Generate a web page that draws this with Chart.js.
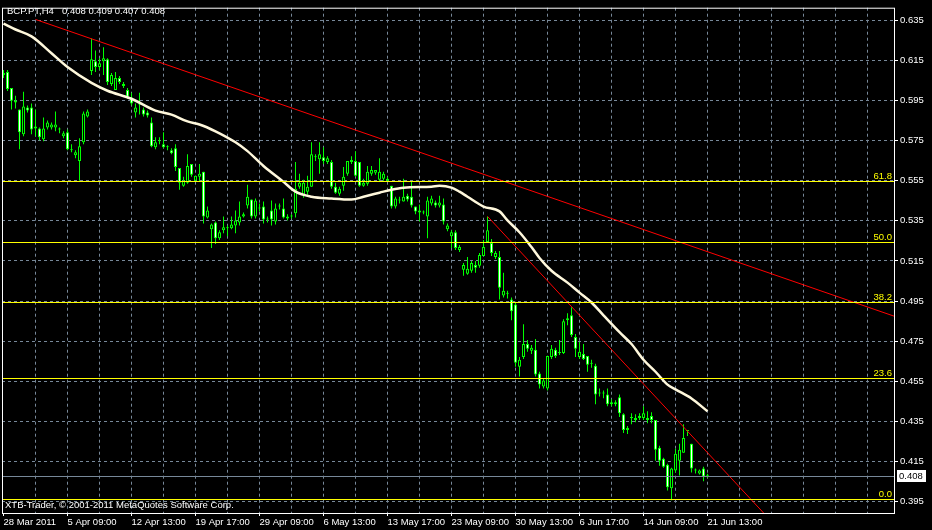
<!DOCTYPE html>
<html><head><meta charset="utf-8">
<script src="https://cdn.jsdelivr.net/npm/chart.js@4/dist/chart.umd.min.js"></script>
<style>html,body{margin:0;padding:0;background:#000;overflow:hidden}canvas{display:block}</style>
</head><body>
<canvas id="c" width="932" height="530"></canvas>
<script>
const symbolTitle = 'BCP.PT,H4';
const footerText = 'XTB-Trader, \u00a9 2001-2011 MetaQuotes Software Corp.';
const xTickLabels = ['28 Mar 2011','5 Apr 09:00','12 Apr 13:00','19 Apr 17:00','29 Apr 09:00','6 May 13:00','13 May 17:00','23 May 09:00','30 May 13:00','6 Jun 17:00','14 Jun 09:00','21 Jun 13:00'];
const yTickValues = [0.635,0.615,0.595,0.575,0.555,0.535,0.515,0.495,0.475,0.455,0.435,0.415,0.395];

const opens = [0.6076,0.6091,0.6012,0.5939,0.5904,0.5781,0.5914,0.5914,0.5820,0.5810,0.5756,0.5815,0.5815,0.5815,0.5805,0.5771,0.5791,0.5702,0.5677,0.5648,0.5741,0.5869,0.6096,0.6145,0.6116,0.6145,0.6155,0.6032,0.6002,0.6061,0.6032,0.6002,0.5963,0.5889,0.5929,0.5904,0.5889,0.5840,0.5716,0.5746,0.5731,0.5716,0.5702,0.5711,0.5613,0.5524,0.5539,0.5633,0.5549,0.5569,0.5594,0.5367,0.5308,0.5342,0.5263,0.5303,0.5313,0.5313,0.5327,0.5342,0.5372,0.5426,0.5456,0.5372,0.5411,0.5421,0.5357,0.5401,0.5347,0.5421,0.5411,0.5362,0.5372,0.5387,0.5519,0.5480,0.5495,0.5519,0.5667,0.5657,0.5667,0.5643,0.5643,0.5519,0.5485,0.5524,0.5584,0.5643,0.5648,0.5643,0.5524,0.5534,0.5584,0.5589,0.5554,0.5559,0.5559,0.5524,0.5421,0.5451,0.5446,0.5475,0.5470,0.5421,0.5391,0.5391,0.5372,0.5436,0.5441,0.5426,0.5431,0.5308,0.5273,0.5293,0.5204,0.5106,0.5086,0.5101,0.5130,0.5126,0.5175,0.5244,0.5239,0.5170,0.5170,0.4978,0.4987,0.4958,0.4933,0.4623,0.4672,0.4736,0.4702,0.4707,0.4589,0.4525,0.4515,0.4672,0.4707,0.4692,0.4692,0.4855,0.4879,0.4771,0.4672,0.4687,0.4677,0.4638,0.4628,0.4490,0.4490,0.4485,0.4436,0.4436,0.4471,0.4386,0.4308,0.4367,0.4357,0.4367,0.4367,0.4357,0.4377,0.4357,0.4219,0.4165,0.4135,0.4017,0.4106,0.4155,0.4194,0.4303,0.4239,0.4106,0.4091,0.4116,0.408];
const highs = [0.6101,0.6101,0.6012,0.5973,0.5904,0.5993,0.5924,0.5934,0.5904,0.5815,0.5864,0.5850,0.5840,0.5894,0.5815,0.5796,0.5805,0.5731,0.5702,0.5761,0.5894,0.5904,0.6258,0.6199,0.6160,0.6214,0.6160,0.6086,0.6091,0.6071,0.6042,0.6012,0.5988,0.5934,0.5988,0.5914,0.5899,0.5864,0.5766,0.5766,0.5791,0.5726,0.5711,0.5731,0.5613,0.5569,0.5682,0.5633,0.5574,0.5633,0.5594,0.5421,0.5337,0.5347,0.5303,0.5372,0.5327,0.5372,0.5401,0.5446,0.5391,0.5529,0.5456,0.5461,0.5436,0.5446,0.5372,0.5451,0.5436,0.5436,0.5461,0.5382,0.5382,0.5643,0.5584,0.5554,0.5574,0.5741,0.5682,0.5741,0.5716,0.5672,0.5653,0.5539,0.5519,0.5618,0.5648,0.5672,0.5697,0.5643,0.5559,0.5623,0.5623,0.5603,0.5662,0.5594,0.5569,0.5524,0.5470,0.5470,0.5559,0.5485,0.5544,0.5421,0.5431,0.5401,0.5470,0.5475,0.5451,0.5475,0.5461,0.5337,0.5303,0.5303,0.5229,0.5140,0.5170,0.5150,0.5150,0.5190,0.5254,0.5372,0.5259,0.5200,0.5200,0.5091,0.5002,0.4968,0.4943,0.4672,0.4835,0.4756,0.4731,0.4761,0.4598,0.4564,0.4677,0.4731,0.4717,0.4756,0.4860,0.4889,0.4919,0.4786,0.4746,0.4736,0.4677,0.4658,0.4638,0.4515,0.4505,0.4515,0.4461,0.4456,0.4485,0.4391,0.4328,0.4391,0.4386,0.4391,0.4426,0.4401,0.4396,0.4357,0.4229,0.4170,0.4140,0.4120,0.4214,0.4239,0.4337,0.4303,0.4239,0.4116,0.4111,0.4125,0.409];
const lows = [0.6061,0.5997,0.5904,0.5909,0.5707,0.5771,0.5889,0.5781,0.5771,0.5751,0.5746,0.5805,0.5805,0.5796,0.5786,0.5761,0.5702,0.5692,0.5662,0.5549,0.5731,0.5864,0.6076,0.6091,0.6101,0.6076,0.6027,0.6022,0.6002,0.6032,0.6012,0.5958,0.5924,0.5864,0.5879,0.5869,0.5864,0.5716,0.5707,0.5731,0.5711,0.5702,0.5682,0.5598,0.5505,0.5519,0.5534,0.5569,0.5544,0.5544,0.5337,0.5362,0.5214,0.5234,0.5254,0.5288,0.5273,0.5308,0.5288,0.5327,0.5367,0.5411,0.5362,0.5362,0.5396,0.5337,0.5342,0.5327,0.5332,0.5406,0.5362,0.5352,0.5362,0.5367,0.5510,0.5465,0.5480,0.5519,0.5648,0.5584,0.5633,0.5633,0.5510,0.5485,0.5475,0.5500,0.5574,0.5633,0.5569,0.5519,0.5519,0.5524,0.5574,0.5579,0.5544,0.5549,0.5544,0.5411,0.5411,0.5436,0.5446,0.5446,0.5416,0.5382,0.5347,0.5382,0.5263,0.5426,0.5416,0.5416,0.5332,0.5298,0.5214,0.5204,0.5194,0.5076,0.5081,0.5091,0.5091,0.5116,0.5175,0.5239,0.5175,0.5160,0.4958,0.4968,0.4963,0.4855,0.4623,0.4574,0.4662,0.4697,0.4687,0.4574,0.4515,0.4515,0.4505,0.4662,0.4667,0.4682,0.4687,0.4830,0.4771,0.4672,0.4662,0.4657,0.4598,0.4618,0.4436,0.4475,0.4466,0.4426,0.4426,0.4426,0.4372,0.4293,0.4288,0.4337,0.4347,0.4357,0.4357,0.4342,0.4342,0.4155,0.4130,0.4120,0.4007,0.3958,0.4096,0.4081,0.4194,0.4278,0.4096,0.4091,0.4086,0.4052,0.407];
const closes = [0.6086,0.6007,0.5948,0.5949,0.5791,0.5919,0.5899,0.5805,0.5810,0.5766,0.5810,0.5840,0.5830,0.5830,0.5805,0.5786,0.5707,0.5702,0.5692,0.5721,0.5884,0.5894,0.6155,0.6116,0.6135,0.6160,0.6042,0.6076,0.6061,0.6042,0.6022,0.5968,0.5934,0.5914,0.5929,0.5879,0.5874,0.5721,0.5741,0.5746,0.5716,0.5716,0.5687,0.5618,0.5539,0.5549,0.5623,0.5579,0.5574,0.5584,0.5372,0.5401,0.5332,0.5263,0.5293,0.5318,0.5313,0.5332,0.5352,0.5372,0.5382,0.5470,0.5372,0.5451,0.5411,0.5357,0.5357,0.5357,0.5411,0.5421,0.5367,0.5372,0.5372,0.5510,0.5539,0.5539,0.5519,0.5682,0.5667,0.5682,0.5648,0.5662,0.5519,0.5490,0.5510,0.5569,0.5648,0.5653,0.5574,0.5524,0.5539,0.5594,0.5603,0.5603,0.5594,0.5584,0.5549,0.5421,0.5461,0.5451,0.5470,0.5456,0.5426,0.5396,0.5401,0.5391,0.5451,0.5461,0.5426,0.5441,0.5347,0.5327,0.5293,0.5214,0.5219,0.5130,0.5111,0.5140,0.5116,0.5180,0.5219,0.5303,0.5190,0.5190,0.5017,0.5002,0.4987,0.4899,0.4643,0.4658,0.4736,0.4712,0.4717,0.4584,0.4534,0.4554,0.4677,0.4712,0.4677,0.4692,0.4850,0.4865,0.4781,0.4712,0.4697,0.4662,0.4633,0.4638,0.4485,0.4490,0.4490,0.4436,0.4446,0.4446,0.4391,0.4308,0.4318,0.4367,0.4367,0.4377,0.4391,0.4367,0.4357,0.4209,0.4155,0.4125,0.4022,0.4116,0.4189,0.4209,0.4268,0.4303,0.4116,0.4106,0.4106,0.4076,0.408];

const maBars = [0,3,7,12,16,22,26,32,38,42,46,49,53,58,61,65,70,73,77,82,87,90,94,97,100,107,109,112,114,116,120,124,126,129,132,134,137,141,144,147,150,154,157,160,163,166,168,172,176];
const maValues = [0.6332,0.6303,0.6269,0.6185,0.6116,0.6037,0.5998,0.5958,0.5899,0.5879,0.5845,0.5830,0.5796,0.5741,0.5697,0.5623,0.5544,0.5495,0.5470,0.5461,0.5456,0.5470,0.5490,0.5505,0.5515,0.5520,0.5524,0.5515,0.5495,0.5470,0.5421,0.5397,0.5352,0.5293,0.5219,0.5165,0.5101,0.5042,0.4992,0.4943,0.4879,0.4795,0.4736,0.4658,0.4598,0.4534,0.4510,0.4465,0.4401];

const trendABars = [8, 222.625];
const trendAPrices = [0.6353, 0.4875];
const trendBBars = [121, 195];
const trendBPrices = [0.5372, 0.3788];

const fibLabels = ['0.0','23.6','38.2','50.0','61.8'];
const fibPrices = [0.3963, 0.4568, 0.4943, 0.5245, 0.5548];
const bidPrice = 0.408;

const GREEN = '#00ff00', GRIDC = '#778899';
Chart.defaults.font.family = 'Liberation Sans';
const n = opens.length;
const bodies = [], wicks = [];
for (let i = 0; i < n; i++) {
  bodies.push({x: i, y: [Math.min(opens[i], closes[i]), Math.max(opens[i], closes[i])]});
  wicks.push({x: i, y: [lows[i], highs[i]]});
}
const maData = maBars.map((b, k) => ({x: b, y: maValues[k]}));
const trendA = trendABars.map((b, k) => ({x: b, y: trendAPrices[k]}));
const trendB = trendBBars.map((b, k) => ({x: b, y: trendBPrices[k]}));

const decor = {
  id: 'decor',
  afterDatasetsDraw(chart) {
    const {ctx, chartArea: a, scales: {y}} = chart;
    ctx.save();
    ctx.beginPath(); ctx.rect(a.left, a.top, a.right - a.left, a.bottom - a.top); ctx.clip();
    ctx.lineWidth = 1;
    ctx.strokeStyle = GRIDC;
    let by = Math.round(y.getPixelForValue(bidPrice)) + 0.5;
    ctx.beginPath(); ctx.moveTo(a.left, by); ctx.lineTo(a.right, by); ctx.stroke();
    ctx.strokeStyle = '#ffff00';
    ctx.fillStyle = '#ffff00';
    ctx.font = '9.5px "Liberation Sans"';
    ctx.textAlign = 'right'; ctx.textBaseline = 'alphabetic';
    fibPrices.forEach((p, k) => {
      const yy = Math.round(y.getPixelForValue(p)) + 0.5;
      ctx.beginPath(); ctx.moveTo(a.left, yy); ctx.lineTo(a.right, yy); ctx.stroke();
      ctx.fillText(fibLabels[k], a.right - 2, yy - 2.5);
    });
    ctx.restore();
  },
  afterDraw(chart) {
    const {ctx, chartArea: a, scales: {y}} = chart;
    ctx.save();
    ctx.strokeStyle = '#ffffff'; ctx.lineWidth = 1;
    ctx.strokeRect(a.left + 0.5, a.top + 0.5, a.right - a.left, a.bottom - a.top);
    ctx.font = '9.5px "Liberation Sans"';
    ctx.textBaseline = 'alphabetic'; ctx.textAlign = 'left';
    ctx.fillStyle = '#ffffff';
    const last = n - 1;
    const vals = [opens[last], highs[last], lows[last], closes[last]].map(v => v.toFixed(3)).join(' ');
    ctx.fillText(symbolTitle, 7, 14);
    ctx.fillText(vals, 62, 14);
    ctx.fillText(footerText, 5, 508);
    const by = Math.round(y.getPixelForValue(bidPrice));
    ctx.fillStyle = '#ffffff';
    ctx.fillRect(897, by - 6, 29, 12);
    ctx.fillStyle = '#000000';
    ctx.textBaseline = 'middle';
    ctx.fillText(bidPrice.toFixed(3), 899, by + 0.5);
    ctx.restore();
  }
};

new Chart(document.getElementById('c'), {
  type: 'bar',
  data: {
    datasets: [
      {type: 'line', data: trendA, borderColor: '#ff0000', borderWidth: 1, pointRadius: 0, order: 0},
      {type: 'line', data: trendB, borderColor: '#ff0000', borderWidth: 1, pointRadius: 0, order: 1},
      {type: 'line', data: maData, borderColor: '#fff8dc', borderWidth: 2.5, pointRadius: 0, cubicInterpolationMode: 'monotone', order: 2},
      {type: 'bar', data: bodies, order: 3, grouped: false, barThickness: 3, minBarLength: 1,
        borderWidth: 1, borderColor: GREEN, borderSkipped: false, inflateAmount: 0,
        backgroundColor: (c) => (c.dataIndex !== undefined && closes[c.dataIndex] < opens[c.dataIndex]) ? '#ffffff' : '#000000'},
      {type: 'bar', data: wicks, order: 4, grouped: false, barThickness: 1, borderWidth: 0, inflateAmount: 0, backgroundColor: GREEN}
    ]
  },
  options: {
    responsive: false, animation: false, devicePixelRatio: 1,
    layout: {padding: {left: 2, top: 2, right: 0, bottom: 0}},
    plugins: {legend: {display: false}, tooltip: {enabled: false}},
    scales: {
      x: {
        type: 'linear', position: 'bottom', min: -0.375, max: 222.625, offset: false,
        afterFit(s) { s.height = 17; },
        afterBuildTicks(s) { const t = []; for (let v = 0; v <= 216; v += 8) t.push({value: v}); s.ticks = t; },
        grid: {
          offset: false, lineWidth: 1,
          color: (c) => (c.tick && c.tick.value === 0) ? 'rgba(0,0,0,0)' : GRIDC,
          drawTicks: true, tickLength: 3, tickBorderDash: [], tickWidth: 1,
          tickColor: (c) => (c.tick && c.tick.value % 16 === 0 && c.tick.value / 16 < xTickLabels.length) ? '#ffffff' : 'rgba(0,0,0,0)'
        },
        border: {display: false, dash: [3, 3]},
        ticks: {
          color: '#ffffff', font: {size: 9.5}, align: 'start', maxRotation: 0, minRotation: 0, autoSkip: false, padding: 1,
          callback: (v) => { const k = v / 16; return (Number.isInteger(k) && k < xTickLabels.length) ? xTickLabels[k] : ''; }
        }
      },
      y: {
        type: 'linear', position: 'right', min: 0.38943, max: 0.64116,
        afterFit(s) { s.width = 38; },
        afterBuildTicks(s) { s.ticks = yTickValues.map(v => ({value: v})); },
        grid: {color: GRIDC, lineWidth: 1, drawTicks: true, tickLength: 4, tickColor: '#ffffff', tickBorderDash: [], tickWidth: 1},
        border: {display: false, dash: [3, 3]},
        ticks: {color: '#ffffff', font: {size: 9.5}, padding: 2, callback: (v) => Number(v).toFixed(3)}
      }
    }
  },
  plugins: [decor]
});
</script>
</body></html>
